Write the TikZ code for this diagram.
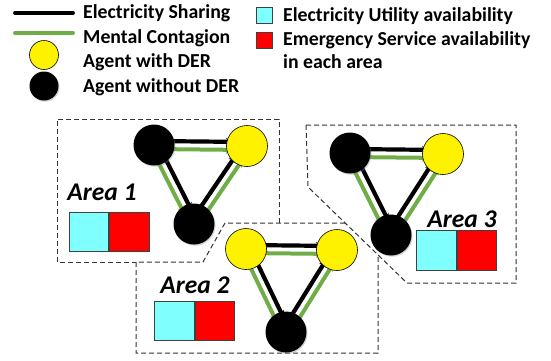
\documentclass[tikz,border=0pt]{standalone}
\usepackage{fontspec}
\setmainfont{Carlito}
\usetikzlibrary{positioning,calc,arrows.meta,backgrounds,shadows}
\definecolor{mentalgreen}{RGB}{112,173,71}
\definecolor{utilcyan}{RGB}{128,255,255}
\tikzset{
  der/.style={circle,draw=black,fill=yellow,minimum size=41pt,inner sep=0pt,line width=0.6pt},
  noder/.style={circle,fill=black,minimum size=41pt,inner sep=0pt,
    drop shadow={opacity=0.35,shadow xshift=1pt,shadow yshift=-1.2pt}},
  share/.style={line width=4.2pt,black,-{Stealth[length=6pt,width=8pt]},shorten >=15pt},
  mental/.style={line width=4pt,mentalgreen,-{Stealth[length=6pt,width=8pt]},shorten >=15pt},
  areabox/.style={dash pattern=on 5pt off 3pt,draw=black!80,line width=1pt},
  utilbox/.style={draw=black!75,fill=utilcyan,minimum size=39.5pt,inner sep=0pt,line width=0.7pt},
  emerbox/.style={utilbox,fill=red},
  legtext/.style={anchor=base west,inner sep=0pt,font=\fontsize{19.8}{22}\selectfont\bfseries},
  arealabel/.style={anchor=base,inner sep=0pt,font=\fontsize{25.5}{28}\selectfont\bfseries\itshape}
}
\newcommand{\linkpair}[2]{%
  \draw[share] ($(#1)!4pt!90:(#2)$) -- ($(#2)!4pt!-90:(#1)$);
  \draw[mental] ($(#1)!4pt!-90:(#2)$) -- ($(#2)!4pt!90:(#1)$);
}
\begin{document}
\begin{tikzpicture}[x=1pt,y=-1pt]
  \useasboundingbox (0,0) rectangle (551,360);

  % legend
  \coordinate (ls0) at (15,13);
  \coordinate (ls1) at (73,13);
  \coordinate (lm0) at (15,33);
  \coordinate (lm1) at (73,33);
  \draw[line width=3.8pt,line cap=round] (ls0) -- (ls1);
  \draw[line width=3.8pt,line cap=round,mentalgreen] (lm0) -- (lm1);
  \node[der,minimum size=29pt] (lder) at (44,55) {};
  \node[noder,minimum size=29pt] (lnoder) at (44,86) {};
  \node[legtext] (tshare) at (83,18.5) {Electricity Sharing};
  \node[legtext] (tmental) at (83,43) {Mental Contagion};
  \node[legtext] (tder) at (83,67.5) {Agent with DER};
  \node[legtext] (tnoder) at (83,92.5) {Agent without DER};
  \node[utilbox,minimum size=15.5pt] (lutil) at (264.5,15.5) {};
  \node[emerbox,minimum size=15.5pt] (lemer) at (264.5,40.5) {};
  \node[legtext] (tutil) at (283,21) {Electricity Utility availability};
  \node[legtext] (temer) at (283,45) {Emergency Service availability};
  \node[legtext] (tarea) at (283,68.5) {in each area};

  % agents
  \node[noder] (a1) at (154,145) {};
  \node[der] (b1) at (247,146) {};
  \node[noder] (c1) at (194,224) {};
  \node[der] (a2) at (246,249) {};
  \node[der] (b2) at (337,250) {};
  \node[noder] (c2) at (286,332) {};
  \node[noder] (a3) at (350,153) {};
  \node[der] (b3) at (443,154) {};
  \node[noder] (c3) at (391,235) {};

  % area labels and availability boxes
  \node[arealabel] (area1) at (102,200) {Area 1};
  \node[utilbox] (u1) at (89,232) {};
  \node[emerbox,right=0pt of u1] (e1) {};
  \node[arealabel] (area2) at (195,293) {Area 2};
  \node[utilbox] (u2) at (174.5,321) {};
  \node[emerbox,right=0pt of u2] (e2) {};
  \node[arealabel] (area3) at (462,227) {Area 3};
  \node[utilbox] (u3) at (436.5,250.5) {};
  \node[emerbox,right=0pt of u3] (e3) {};

  \begin{scope}[on background layer]
    \draw[areabox] (279,223) -- (279,119) -- (57,119) -- (57,262) -- (136,262);
    \draw[areabox] (345,223) -- (225,223) -- (203,262) -- (136,262) -- (136,353)
      -- (378,353) -- (378,257);
    \draw[areabox] (306,125) -- (516,125) -- (516,283) -- (407,283) -- (308,187) -- cycle;

    \linkpair{a1}{b1}
    \linkpair{a1}{c1}
    \linkpair{c1}{b1}
    \linkpair{a2}{b2}
    \linkpair{a2}{c2}
    \linkpair{c2}{b2}
    \linkpair{a3}{b3}
    \linkpair{a3}{c3}
    \linkpair{c3}{b3}
  \end{scope}
\end{tikzpicture}
\end{document}
